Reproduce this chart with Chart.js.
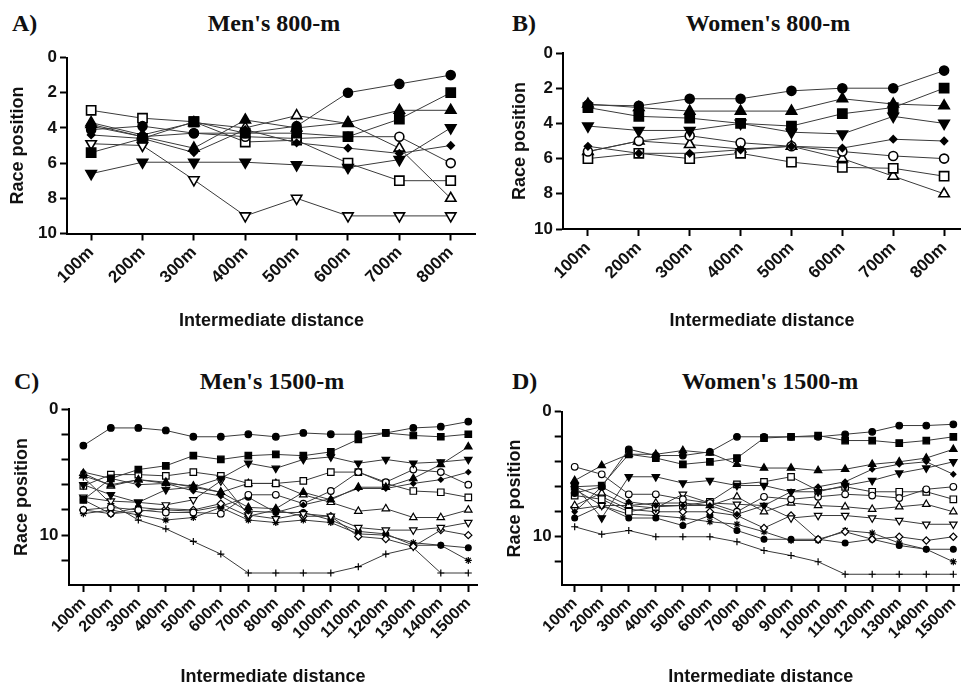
<!DOCTYPE html>
<html>
<head>
<meta charset="utf-8">
<script src="https://cdn.jsdelivr.net/npm/chart.js@4.4.0/dist/chart.umd.min.js"></script>
<style>
  body { margin: 0; background: #fff; width: 969px; height: 689px; overflow: hidden; position: relative; }
  canvas { position: absolute; }
  .hd { position: absolute; font-family: "Liberation Serif", "Times New Roman", serif; font-weight: bold;
        font-size: 24px; line-height: 24px; color: #111; white-space: nowrap; }
  .mid { transform: translateX(-50%); }
</style>
</head>
<body>
<div class="hd" style="left:12px;top:11px">A)</div>
<div class="hd mid" style="left:274px;top:11px">Men's 800-m</div>
<div class="hd" style="left:512px;top:11px">B)</div>
<div class="hd mid" style="left:768px;top:11px">Women's 800-m</div>
<div class="hd" style="left:14px;top:369px">C)</div>
<div class="hd mid" style="left:272px;top:369px">Men's 1500-m</div>
<div class="hd" style="left:512px;top:369px">D)</div>
<div class="hd mid" style="left:770px;top:369px">Women's 1500-m</div>

<canvas id="men800" width="484" height="332" style="left:0;top:0"></canvas>
<canvas id="women800" width="469" height="332" style="left:500px;top:0"></canvas>
<canvas id="men1500" width="484" height="344" style="left:0;top:345px"></canvas>
<canvas id="women1500" width="469" height="344" style="left:500px;top:345px"></canvas>

<script>
// split distances
var dist800 = ["100m", "200m", "300m", "400m", "500m", "600m", "700m", "800m"];
var dist1500 = ["100m", "200m", "300m", "400m", "500m", "600m", "700m", "800m",
                "900m", "1000m", "1100m", "1200m", "1300m", "1400m", "1500m"];

// race position of each finisher (row = final place) at every split
var men800 = [
  [4.1, 3.9, 4.3, 4.3, 3.9, 2.0, 1.5, 1.0],
  [5.4, 4.6, 3.65, 4.3, 4.3, 4.5, 3.5, 2.0],
  [3.8, 4.5, 5.15, 3.55, 4.0, 3.7, 3.0, 3.0],
  [6.6, 5.95, 5.95, 5.95, 6.1, 6.25, 5.8, 4.0],
  [4.4, 4.6, 5.4, 4.1, 4.85, 5.15, 5.45, 5.0],
  [3.9, 4.5, 4.3, 4.5, 4.6, 4.5, 4.5, 6.0],
  [3.0, 3.45, 3.65, 4.8, 4.7, 6.0, 7.0, 7.0],
  [3.7, 4.4, 3.7, 4.0, 3.3, 3.75, 5.15, 8.0],
  [4.9, 5.0, 6.95, 9.0, 8.0, 9.0, 9.0, 9.0]
];
var women800 = [
  [2.95, 3.0, 2.6, 2.6, 2.15, 2.0, 2.0, 1.0],
  [3.1, 3.6, 3.7, 4.0, 4.15, 3.45, 3.1, 2.0],
  [2.9, 3.1, 3.3, 3.3, 3.3, 2.6, 2.9, 3.0],
  [4.15, 4.4, 4.4, 4.0, 4.5, 4.6, 3.6, 4.0],
  [5.3, 5.7, 5.7, 5.5, 5.3, 5.4, 4.9, 5.0],
  [5.6, 5.0, 4.7, 5.1, 5.3, 5.6, 5.85, 6.0],
  [6.0, 5.7, 6.0, 5.7, 6.2, 6.5, 6.55, 7.0],
  [5.6, 5.0, 5.2, 5.45, 5.3, 6.0, 7.0, 8.0]
];
var men1500 = [
  [2.9, 1.5, 1.5, 1.7, 2.2, 2.2, 2.0, 2.2, 1.9, 2.0, 2.0, 1.9, 1.5, 1.4, 1.0],
  [7.2, 5.5, 4.8, 4.5, 3.7, 4.0, 3.7, 3.6, 3.7, 3.4, 2.4, 1.9, 2.1, 2.2, 2.0],
  [5.3, 6.0, 5.6, 5.8, 6.2, 6.6, 7.8, 7.9, 6.6, 7.2, 6.2, 6.2, 5.5, 4.4, 3.0],
  [6.0, 6.8, 7.4, 6.4, 6.2, 5.5, 4.3, 4.7, 4.0, 3.8, 4.3, 4.0, 4.3, 4.2, 4.0],
  [5.0, 5.5, 6.0, 5.9, 6.5, 6.9, 8.1, 8.2, 7.6, 7.1, 6.3, 6.3, 5.9, 5.6, 5.0],
  [8.0, 7.8, 8.0, 8.2, 8.2, 8.3, 6.8, 6.8, 7.5, 6.5, 5.0, 5.8, 4.8, 5.0, 6.0],
  [6.1, 5.2, 5.2, 5.3, 5.0, 5.3, 5.9, 5.9, 5.7, 5.0, 5.0, 5.9, 6.5, 6.6, 7.0],
  [5.1, 6.1, 5.6, 5.9, 6.1, 6.6, 5.9, 5.9, 6.8, 7.4, 8.1, 7.9, 8.6, 8.6, 8.0],
  [7.0, 7.3, 7.4, 7.6, 7.2, 5.7, 8.4, 8.7, 8.3, 8.5, 9.4, 9.6, 9.6, 9.4, 9.0],
  [8.0, 8.3, 8.1, 7.9, 8.0, 7.5, 8.5, 8.0, 8.5, 8.5, 10.1, 10.3, 10.9, 9.6, 10.0],
  [7.2, 8.3, 7.8, 8.0, 8.1, 7.7, 7.0, 8.2, 8.2, 8.8, 9.7, 9.9, 10.8, 10.8, 11.0],
  [8.3, 8.0, 8.4, 8.8, 8.6, 7.8, 8.8, 9.0, 8.8, 9.0, 9.9, 10.0, 10.6, 10.8, 12.0],
  [5.4, 7.5, 8.8, 9.5, 10.5, 11.5, 13.0, 13.0, 13.0, 13.0, 12.5, 11.5, 11.0, 13.0, 13.0]
];
var women1500 = [
  [6.5, 6.0, 3.0, 3.5, 3.5, 3.2, 2.0, 2.0, 2.0, 2.0, 1.8, 1.6, 1.1, 1.1, 1.0],
  [6.0, 5.9, 3.4, 3.7, 4.2, 4.0, 3.7, 2.1, 2.0, 1.9, 2.3, 2.3, 2.5, 2.3, 2.0],
  [5.5, 4.3, 3.4, 3.4, 3.1, 3.3, 4.2, 4.5, 4.5, 4.7, 4.6, 4.2, 4.0, 3.7, 3.0],
  [5.9, 8.5, 5.2, 5.2, 5.7, 5.5, 5.9, 5.9, 6.4, 6.4, 5.9, 5.5, 4.9, 4.5, 4.0],
  [8.0, 6.0, 7.2, 7.5, 7.5, 7.5, 8.2, 7.5, 6.4, 6.0, 5.6, 4.6, 4.2, 4.0, 5.0],
  [4.4, 5.0, 6.6, 6.6, 7.0, 7.3, 8.0, 6.8, 7.0, 6.8, 6.6, 6.7, 6.9, 6.2, 6.0],
  [6.7, 7.0, 8.0, 7.6, 7.5, 7.2, 5.8, 5.6, 5.2, 6.3, 6.0, 6.4, 6.4, 6.4, 7.0],
  [7.5, 6.5, 7.5, 7.3, 7.3, 7.5, 6.8, 8.0, 7.3, 7.5, 7.6, 7.8, 7.6, 7.4, 8.0],
  [7.8, 7.5, 7.5, 7.7, 6.6, 7.3, 7.4, 7.5, 8.5, 8.3, 8.3, 8.5, 8.7, 9.0, 9.0],
  [6.0, 6.8, 7.8, 8.0, 8.0, 8.0, 8.3, 9.3, 8.3, 10.2, 9.6, 10.2, 10.0, 10.3, 10.0],
  [8.5, 7.5, 8.5, 8.5, 9.1, 8.3, 9.5, 10.2, 10.2, 10.2, 10.5, 10.2, 10.7, 11.0, 11.0],
  [6.2, 7.5, 8.2, 8.3, 8.5, 8.8, 9.0, 9.6, 10.3, 10.3, 9.5, 9.7, 10.5, 11.0, 12.0],
  [9.2, 9.8, 9.5, 10.0, 10.0, 10.0, 10.4, 11.1, 11.5, 12.0, 13.0, 13.0, 13.0, 13.0, 13.0]
];

// Prism style symbol sequence (big = 800 m panels, small = 1500 m panels)
var symbols = [
  { style: 'circle',   fill: true,  big: 4.5, small: 3.3 },
  { style: 'rect',     fill: true,  big: 6.5, small: 4.6 },
  { style: 'triangle', fill: true,  big: 6,   small: 4.3 },
  { style: 'triangle', fill: true,  big: 6,   small: 4.3, rot: 180 },
  { style: 'rectRot',  fill: true,  big: 3.5, small: 2.6 },
  { style: 'circle',   fill: false, big: 4.5, small: 3.3 },
  { style: 'rect',     fill: false, big: 6.5, small: 4.6 },
  { style: 'triangle', fill: false, big: 6,   small: 4.3 },
  { style: 'triangle', fill: false, big: 6,   small: 4.3, rot: 180 },
  { style: 'rectRot',  fill: false, big: 4.5, small: 3.6 },
  { style: 'circle',   fill: true,  big: 3.5, small: 2.9 },
  { style: 'star',     fill: false, big: 4,   small: 3.5 },
  { style: 'cross',    fill: false, big: 4,   small: 3.5 }
];

var sans = '"Liberation Sans", Arial, sans-serif';

function buildSets(rows, big) {
  return rows.map(function(row, i) {
    var m = symbols[i];
    return {
      data: row.map(function(v, k) { return { x: k + 1, y: v }; }),
      borderColor: '#3a3a3a',
      borderWidth: 1,
      pointStyle: m.style,
      pointRotation: m.rot || 0,
      pointRadius: big ? m.big : m.small,
      pointBackgroundColor: m.fill ? '#000' : '#fff',
      pointBorderColor: '#000',
      pointBorderWidth: big ? 1.6 : 1.2,
      clip: false
    };
  });
}

function panel(id, rows, labels, g) {
  var ctx = document.getElementById(id).getContext('2d');
  return new Chart(ctx, {
    type: 'line',
    data: { datasets: buildSets(rows, g.big) },
    options: {
      responsive: false,
      animation: false,
      layout: { padding: { top: g.top, right: g.right, left: 0, bottom: 0 } },
      plugins: { legend: { display: false }, tooltip: { enabled: false } },
      scales: {
        x: {
          type: 'linear', min: g.xmin, max: g.xmax,
          afterBuildTicks: function(s) { s.ticks = labels.map(function(l, i) { return { value: i + 1 }; }); },
          afterFit: function(s) { s.height = g.xh; },
          ticks: {
            autoSkip: false, minRotation: 45, maxRotation: 45, padding: 2, color: '#111',
            font: { family: sans, weight: 'bold', size: g.xfs },
            callback: function(v) { return labels[v - 1]; }
          },
          grid: { drawOnChartArea: false, tickLength: 7, tickColor: '#000', tickWidth: 2 },
          border: { color: '#000', width: 2 },
          title: { display: true, text: 'Intermediate distance', color: '#111',
                   font: { family: sans, weight: 'bold', size: 18 }, padding: { top: 0, bottom: g.xtb } }
        },
        y: {
          type: 'linear', reverse: true, min: 0, max: g.ymax,
          afterBuildTicks: function(s) {
            var t = [];
            for (var v = 0; v <= g.ylast; v += g.ystep) t.push({ value: v });
            s.ticks = t;
          },
          afterFit: function(s) { s.width = g.yw; },
          ticks: {
            padding: 3, color: '#111', font: { family: sans, weight: 'bold', size: 17 },
            callback: function(v) { return v % g.ylab === 0 ? v : ''; }
          },
          grid: { drawOnChartArea: false, tickLength: 7, tickColor: '#000', tickWidth: 2 },
          border: { color: '#000', width: 2 },
          title: { display: true, text: 'Race position', color: '#111',
                   font: { family: sans, weight: 'bold', size: 18 }, padding: { top: g.ytp, bottom: 0 } }
        }
      }
    }
  });
}

panel('men800', men800, dist800, {
  big: true, top: 57.5, right: 3, xmin: 0.53, xmax: 8.49, xh: 98.5, xfs: 17, xtb: 0,
  ymax: 10, ylast: 10, ystep: 2, ylab: 2, yw: 67, ytp: 7
});
panel('women800', women800, dist800, {
  big: true, top: 53, right: 0, xmin: 0.51, xmax: 8.33, xh: 103, xfs: 17, xtb: 0,
  ymax: 10, ylast: 10, ystep: 2, ylab: 2, yw: 63, ytp: 9
});
panel('men1500', men1500, dist1500, {
  big: false, top: 64, right: 4, xmin: 0.46, xmax: 15.33, xh: 104, xfs: 16, xtb: 1,
  ymax: 13.95, ylast: 13, ystep: 1, ylab: 5, yw: 68.5, ytp: 11
});
panel('women1500', women1500, dist1500, {
  big: false, top: 66.8, right: 0, xmin: 0.52, xmax: 15.24, xh: 104, xfs: 16, xtb: 1,
  ymax: 13.86, ylast: 13, ystep: 1, ylab: 5, yw: 61.7, ytp: 4
});
</script>
</body>
</html>
